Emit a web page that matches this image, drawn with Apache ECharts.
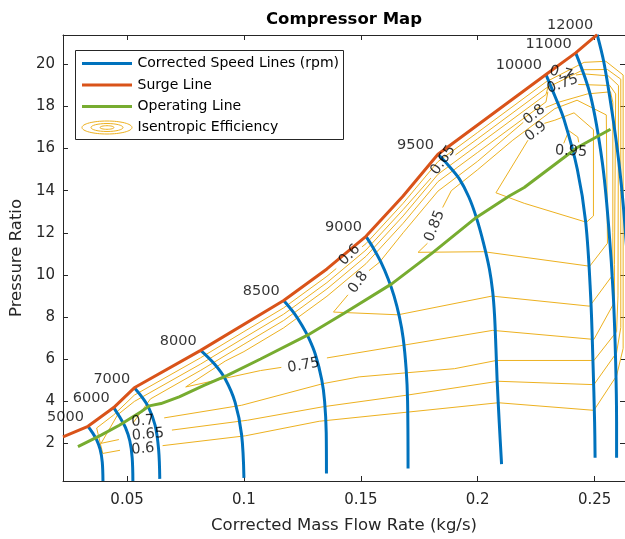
<!DOCTYPE html>
<html><head><meta charset="utf-8">
<script src="https://cdn.jsdelivr.net/npm/echarts@6.0.0/dist/echarts.min.js"></script>
<style>html,body{margin:0;padding:0;background:#fff}#chart{width:625px;height:539px}</style>
</head><body><div id="chart"></div>
<script>
const FONT = 'DejaVu Sans';

// ---- axis ticks ----
const xTickValues = [0.05, 0.1, 0.15, 0.2, 0.25];
const xTickLabels = ['0.05', '0.1', '0.15', '0.2', '0.25'];
const yTickValues = [2, 4, 6, 8, 10, 12, 14, 16, 18, 20];
const yTickLabels = ['2', '4', '6', '8', '10', '12', '14', '16', '18', '20'];

// ---- corrected speed lines (mass flow, pressure ratio) ----
const speedNames = ['5000', '6000', '7000', '8000', '8500', '9000', '9500', '10000', '11000', '12000'];
const s5000 = [[0.0333,2.8],[0.0352,2.5],[0.0370,2.15],[0.0385,1.7],[0.0394,1.1],[0.0397,0.2]];
const s6000 = [[0.0443,3.69],[0.0468,3.25],[0.0493,2.75],[0.0512,2.1],[0.0522,1.3],[0.0525,0.2]];
const s7000 = [[0.0531,4.63],[0.0563,4.2],[0.0592,3.7],[0.0620,2.85],[0.0635,1.7],[0.0640,0.3]];
const s8000 = [[0.0815,6.41],[0.0875,5.75],[0.0920,5.05],[0.0962,3.95],[0.0990,2.4],[0.1000,0.35]];
const s8500 = [[0.1170,8.78],[0.1213,8.2],[0.1248,7.6],[0.1277,7.0],[0.1306,6.2],[0.1333,5.0],[0.1345,4.0],[0.1352,2.5],[0.1353,0.56]];
const s9000 = [[0.1522,11.83],[0.1552,11.3],[0.1586,10.6],[0.1617,9.8],[0.1642,9.0],[0.1665,8.0],[0.1681,7.0],[0.1694,5.5],[0.1700,4.0],[0.1702,0.8]];
const s9500 = [[0.1830,15.73],[0.1875,15.2],[0.1922,14.55],[0.1962,13.7],[0.1994,12.73],[0.2025,11.5],[0.2050,10.28],[0.2064,9.2],[0.2072,8.07],[0.2078,6.5],[0.2083,5.0],[0.2092,3.0],[0.2102,1.0]];
const s10000 = [[0.2292,19.52],[0.2330,18.5],[0.2369,17.39],[0.2426,15.02],[0.2462,12.49],[0.2483,9.0],[0.2493,5.86],[0.2500,3.0],[0.2502,1.3]];
const s11000 = [[0.2419,20.55],[0.2483,18.49],[0.2533,15.34],[0.2561,12.18],[0.2580,9.0],[0.2590,5.86],[0.2594,3.0],[0.2594,1.3]];
const s12000 = [[0.2511,21.42],[0.2540,20.08],[0.2575,17.71],[0.2604,15.34],[0.2625,13.0],[0.2650,9.0],[0.2660,5.0],[0.2662,1.3]];
const speedLines = [s5000, s6000, s7000, s8000, s8500, s9000, s9500, s10000, s11000, s12000];

// ---- surge and operating lines ----
const surgeLine = [[0.0226,2.3],[0.0333,2.8],[0.0443,3.69],[0.0531,4.63],[0.0815,6.41],[0.117,8.78],[0.1355,10.28],[0.1522,11.83],[0.1681,13.75],[0.183,15.73],[0.2292,19.52],[0.2419,20.55],[0.2511,21.42]];
const operatingLine = [[0.0290,1.83],[0.0389,2.38],[0.0467,2.85],[0.0560,3.49],[0.0595,3.77],[0.0645,3.88],[0.0723,4.2],[0.0829,4.75],[0.0929,5.22],[0.1071,6.0],[0.1270,7.12],[0.1425,8.15],[0.1632,9.57],[0.1809,11.07],[0.1994,12.73],[0.2135,13.75],[0.2199,14.15],[0.2426,16.05],[0.2568,16.92]];

// ---- isentropic efficiency contours (segments, broken at inline labels) ----
const eff060 = [
  [[0.2622,6.5],[0.2622,19.5],[0.2548,20.15],[0.2455,20.1],[0.2292,19.17],[0.2,16.77],[0.183,15.38],[0.1681,13.4],[0.1522,11.48],[0.1505,11.33]],
  [[0.1395,10.3],[0.1355,9.93],[0.117,8.43],[0.1,7.3],[0.0815,6.06],[0.0531,4.28],[0.0443,3.34],[0.037,2.72],[0.0396,1.51],[0.047,1.66]],
  [[0.0652,1.88],[0.1007,2.35],[0.1322,3.04],[0.2088,3.92],[0.2497,3.56],[0.2594,5.2],[0.2622,6.5]]
];
const eff065 = [
  [[0.2612,7.5],[0.2612,19.3],[0.2555,19.76],[0.2452,19.75],[0.2292,18.87],[0.2,16.47],[0.1905,15.7]],
  [[0.1800,14.6],[0.1681,13.1],[0.1522,11.18],[0.1355,9.63],[0.117,8.13],[0.1,7.0],[0.0815,5.76],[0.0531,3.98],[0.046,3.35],[0.0389,1.99],[0.0465,2.17]],
  [[0.0692,2.62],[0.1016,3.09],[0.1339,3.73],[0.1697,4.28],[0.2088,4.94],[0.2497,4.78],[0.2594,6.3],[0.2612,7.5]]
];
const eff070 = [
  [[0.2600,9.0],[0.2602,19.0],[0.2558,19.46],[0.2455,19.55],[0.2420,19.5]],
  [[0.2305,19.1],[0.2292,18.57],[0.2,16.17],[0.183,14.78],[0.1681,12.8],[0.1522,10.88],[0.1355,9.33],[0.117,7.83],[0.1,6.7],[0.0815,5.46],[0.0600,4.1],[0.0525,2.95]],
  [[0.0659,3.20],[0.099,3.80],[0.1339,4.83],[0.1493,5.15],[0.1901,5.54],[0.208,5.93],[0.2497,5.93],[0.2594,7.3],[0.2600,9.0]]
];
const eff075 = [
  [[0.2585,10.5],[0.2590,18.6],[0.2565,19.0],[0.2430,19.05]],
  [[0.2300,18.7],[0.2292,18.22],[0.2,15.82],[0.183,14.43],[0.1681,12.45],[0.1522,10.53],[0.1355,8.98],[0.117,7.48],[0.1,6.35],[0.092,5.9],[0.0751,4.67],[0.0914,5.07],[0.1071,5.45],[0.116,5.6]],
  [[0.1355,6.05],[0.2064,7.36],[0.2497,6.93],[0.2585,8.7],[0.2585,10.5]]
];
const eff080 = [
  [[0.2578,12.0],[0.2578,18.2],[0.2568,18.7],[0.2470,18.6],[0.2345,18.2],[0.2290,17.95]],
  [[0.2195,17.25],[0.2,15.4],[0.183,13.98],[0.1681,12.0],[0.1580,10.6],[0.1535,10.2]],
  [[0.1445,9.05],[0.1383,8.23],[0.1659,8.1],[0.2061,8.99],[0.2479,8.51],[0.2578,10.0],[0.2578,12.0]]
];
const eff085 = [
  [[0.1850,13.2],[0.1887,14.0],[0.2,15.0],[0.215,16.4],[0.2330,17.9],[0.2425,18.3],[0.2550,17.6],[0.2555,11.5],[0.2479,10.41],[0.2026,11.1],[0.1745,11.07],[0.1785,11.5]]
];
const eff090 = [
  [[0.2215,16.4],[0.2078,13.9],[0.2199,13.4],[0.2465,12.5],[0.2495,12.8],[0.2495,16.9],[0.2412,17.7],[0.2330,17.35],[0.2285,17.2]]
];
const eff095 = [
  [[0.2368,16.25],[0.2390,16.85],[0.2428,16.55],[0.2432,16.3]]
];
const effContours = [eff060, eff065, eff070, eff075, eff080, eff085, eff090, eff095];

// ---- inline contour labels ----
const effLabelText = ['0.6','0.65','0.7','0.75','0.8','0.6','0.85','0.65','0.7','0.75','0.8','0.9','0.95'];
const effLabelX = [0.0568,0.0590,0.0568,0.1255,0.1489,0.1452,0.1816,0.1852,0.2356,0.2363,0.2242,0.2249,0.2399];
const effLabelY = [1.72,2.41,3.04,5.69,9.64,10.95,12.32,15.45,19.58,19.07,17.61,16.82,15.87];
const effLabelAngle = [5,5,5,10,55,45,68,55,-15,20,38,38,-3];

const series = [];
effContours.forEach(level => level.forEach(seg => series.push({
  type: 'line', data: seg, showSymbol: false, silent: true, animation: false, z: 1,
  lineStyle: { color: '#EDB120', width: 1 }
})));
speedLines.forEach((d, i) => series.push({
  type: 'line', name: speedNames[i], data: d, showSymbol: false, smooth: 0.35, animation: false, z: 2,
  lineStyle: { color: '#0072BD', width: 3 }
}));
series.push({ type: 'line', name: 'Surge Line', data: surgeLine, showSymbol: false, animation: false, z: 3,
  lineStyle: { color: '#D95319', width: 3 } });
series.push({ type: 'line', name: 'Operating Line', data: operatingLine, showSymbol: false, animation: false, z: 4,
  lineStyle: { color: '#77AC30', width: 3 } });
series.push({ type: 'scatter', symbolSize: 0, animation: false, z: 5, silent: true, clip: false,
  data: speedNames.map((n, i) => ({ name: n, value: speedLines[i][0] })),
  label: { show: true, formatter: '{b}', position: 'left', distance: 5, offset: [1, -9],
    color: '#000', fontFamily: FONT, fontSize: 14.5 } });
series.push({ type: 'scatter', symbolSize: 0, animation: false, z: 5, silent: true, clip: false,
  data: effLabelText.map((t, i) => ({ name: t, value: [effLabelX[i], effLabelY[i]], label: { rotate: effLabelAngle[i] } })),
  label: { show: true, formatter: '{b}', position: 'inside', color: '#000', fontFamily: FONT, fontSize: 14.5 } });

const axisCommon = {
  axisLine: { show: true, lineStyle: { color: '#262626', width: 1 } },
  splitLine: { show: false }
};

const legendRows = [63.5, 85, 106.5, 127.5];
const legendText = ['Corrected Speed Lines (rpm)', 'Surge Line', 'Operating Line', 'Isentropic Efficiency'];
const legendColors = ['#0072BD', '#D95319', '#77AC30'];
const graphic = [
  { type: 'text', z: 100, x: 344, y: 19.5, style: { text: 'Compressor Map', font: 'bold 16.5px ' + FONT, fill: '#000', align: 'center', verticalAlign: 'middle' } },
  { type: 'rect', z: 100, shape: { x: 75.5, y: 50.5, width: 268, height: 89 }, style: { fill: '#fff', stroke: '#262626', lineWidth: 1 } }
];
legendColors.forEach((c, i) => graphic.push({ type: 'line', z: 101, shape: { x1: 82, y1: legendRows[i], x2: 132, y2: legendRows[i] }, style: { stroke: c, lineWidth: 3 } }));
[[25, 6.5], [16, 4], [7, 1.8]].forEach(r => graphic.push({ type: 'ellipse', z: 101, shape: { cx: 107, cy: legendRows[3], rx: r[0], ry: r[1] }, style: { fill: 'none', stroke: '#EDB120', lineWidth: 1 } }));
legendText.forEach((t, i) => graphic.push({ type: 'text', z: 101, x: 137.5, y: legendRows[i], style: { text: t, font: '14px ' + FONT, fill: '#000', verticalAlign: 'middle' } }));

const chart = echarts.init(document.getElementById('chart'), null, { renderer: 'canvas' });
chart.setOption({
  animation: false,
  backgroundColor: '#fff',
  textStyle: { fontFamily: FONT },
  grid: { left: 62, top: 35, width: 564, height: 447.7, containLabel: false },
  xAxis: [
    Object.assign({ type: 'value', min: 0.0226, max: 0.263, position: 'bottom',
      name: 'Corrected Mass Flow Rate (kg/s)', nameLocation: 'middle', nameGap: 36,
      nameTextStyle: { fontSize: 16.5, color: '#262626', fontFamily: FONT },
      axisTick: { show: true, inside: true, length: 5, customValues: xTickValues, lineStyle: { color: '#262626' } },
      axisLabel: { show: true, customValues: xTickValues, margin: 12, fontSize: 15, color: '#262626', fontFamily: FONT,
        formatter: v => xTickLabels[xTickValues.findIndex(t => Math.abs(t - v) < 1e-9)] } }, axisCommon),
    Object.assign({ type: 'value', min: 0.0226, max: 0.263, position: 'top',
      axisTick: { show: true, inside: true, length: 5, customValues: xTickValues, lineStyle: { color: '#262626' } },
      axisLabel: { show: false } }, axisCommon)
  ],
  yAxis: [
    Object.assign({ type: 'value', min: 0.2, max: 21.4, position: 'left',
      name: 'Pressure Ratio', nameLocation: 'middle', nameGap: 31,
      nameTextStyle: { fontSize: 16.5, color: '#262626', fontFamily: FONT },
      axisTick: { show: true, inside: true, length: 5, customValues: yTickValues, lineStyle: { color: '#262626' } },
      axisLabel: { show: true, customValues: yTickValues, margin: 8, fontSize: 15, color: '#262626', fontFamily: FONT,
        formatter: v => yTickLabels[yTickValues.findIndex(t => Math.abs(t - v) < 1e-9)] } }, axisCommon),
    Object.assign({ type: 'value', min: 0.2, max: 21.4, position: 'right',
      axisTick: { show: true, inside: true, length: 5, customValues: yTickValues, lineStyle: { color: '#262626' } },
      axisLabel: { show: false } }, axisCommon)
  ],
  series: series,
  graphic: graphic
});
</script>
</body></html>
